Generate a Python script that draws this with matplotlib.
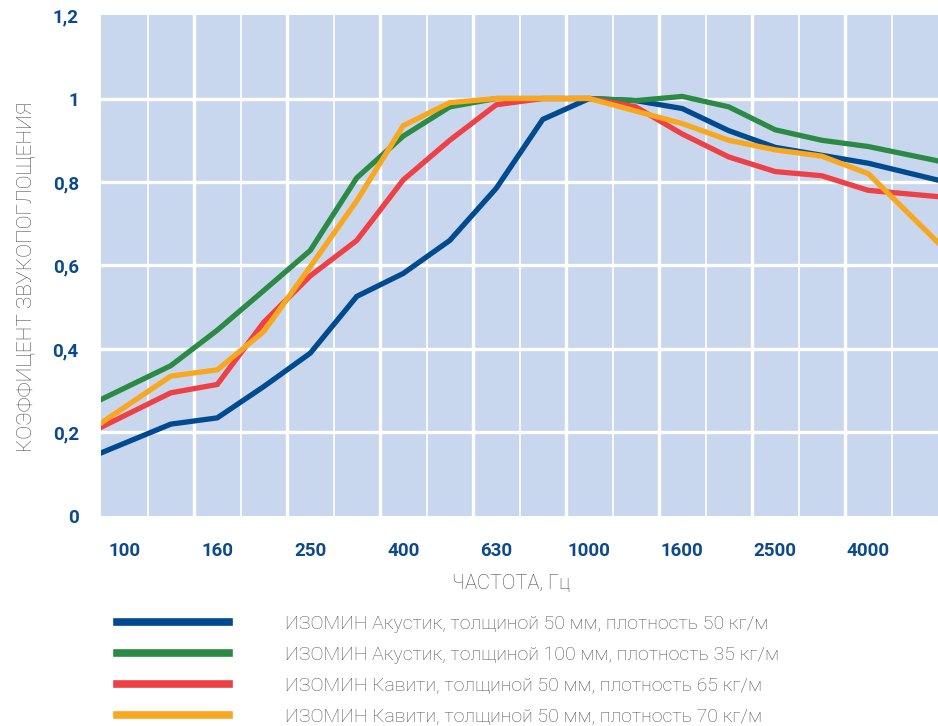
import numpy as np
import matplotlib as mpl
import matplotlib.pyplot as plt

mpl.rcParams['font.family'] = ['Roboto', 'DejaVu Sans']

# third-octave bands, Hz
freqs = ['100', '125', '160', '200', '250', '315', '400', '500', '630',
         '800', '1000', '1250', '1600', '2000', '2500', '3150', '4000', '5000']
shown = ['100', '160', '250', '400', '630', '1000', '1600', '2500', '4000']

akustik_50 = [0.174, 0.22, 0.235, 0.31, 0.39, 0.526, 0.581, 0.66, 0.785,
              0.95, 1.0, 0.995, 0.976, 0.923, 0.883, 0.864, 0.845, 0.818]
akustik_100 = [0.306, 0.36, 0.445, 0.54, 0.636, 0.81, 0.91, 0.98, 1.0,
               1.0, 1.0, 0.995, 1.005, 0.98, 0.925, 0.90, 0.885, 0.862]
kaviti_65 = [0.24, 0.295, 0.315, 0.464, 0.575, 0.66, 0.805, 0.90, 0.985,
             1.0, 1.0, 0.98, 0.915, 0.86, 0.825, 0.815, 0.78, 0.77]
kaviti_70 = [0.26, 0.335, 0.35, 0.442, 0.597, 0.755, 0.935, 0.99, 1.0,
             1.0, 1.0, 0.97, 0.94, 0.90, 0.877, 0.862, 0.82, 0.71]

labels = ['ИЗОМИН Акустик, толщиной 50 мм, плотность 50 кг/м',
          'ИЗОМИН Акустик, толщиной 100 мм, плотность 35 кг/м',
          'ИЗОМИН Кавити, толщиной 50 мм, плотность 65 кг/м',
          'ИЗОМИН Кавити, толщиной 50 мм, плотность 70 кг/м']
colors = ['#004a8f', '#2b8a44', '#ee4045', '#f8a71e']

fig = plt.figure(figsize=(9.38, 7.26), dpi=100)
ax = fig.add_axes([0.1077, 0.2893, 0.8923, 0.69])
ax.set_facecolor('#c9d7ee')
for s in ax.spines.values():
    s.set_visible(False)

n = len(freqs)
x = np.arange(n)
# lines run out to the plot edges, continuing the end segments
xe = np.concatenate([[-0.5], x, [n - 0.5]])
handles = []
for vals, c, lab in zip([akustik_50, akustik_100, kaviti_65, kaviti_70], colors, labels):
    v = np.asarray(vals)
    ve = np.concatenate([[v[0] - (v[1] - v[0]) / 2], v, [v[-1] + (v[-1] - v[-2]) / 2]])
    h, = ax.plot(xe, ve, color=c, lw=3.8, solid_joinstyle='miter', label=lab, zorder=3)
    handles.append(h)

# white grid: horizontal every 0.2, vertical at band borders (alternating widths)
for yv in np.arange(0.2, 1.2, 0.2):
    ax.axhline(yv, color='white', lw=2.4, zorder=1)
for k in range(n - 1):
    ax.axvline(k + 0.5, color='white', lw=2.4 if k % 2 else 1.2, zorder=1)

ax.set_xlim(-0.5, n - 0.5)
ax.set_ylim(0, 1.2)
ax.set_yticks(np.arange(0, 1.21, 0.2))
ax.set_yticklabels(['0', '0,2', '0,4', '0,6', '0,8', '1', '1,2'])
ax.set_xticks([freqs.index(f) for f in shown])
ax.set_xticklabels(shown)
ax.tick_params(length=0, labelsize=13.5, labelcolor='#0c4a8c', pad=16)
ax.tick_params(axis='x', pad=19)
for t in ax.get_xticklabels() + ax.get_yticklabels():
    t.set_fontweight('bold')

ax.set_ylabel('КОЭФФИЦЕНТ ЗВУКОПОГЛОЩЕНИЯ', fontsize=15, color='#4a4a4a',
              fontweight='light', labelpad=12, y=0.477)
ax.set_xlabel('ЧАСТОТА, Гц', fontsize=14.5, color='#4a4a4a', fontweight='light',
              labelpad=10, x=0.49)

leg = fig.legend(handles=handles, loc='upper left', bbox_to_anchor=(0.114, 0.166),
                 frameon=False, handlelength=5.8, handletextpad=2.85,
                 labelspacing=0.66, borderpad=0, labelcolor='#555555',
                 prop={'weight': 'light', 'size': 14})
for line in leg.get_lines():
    line.set_linewidth(5.5)

fig.savefig('out.png', dpi=100)
